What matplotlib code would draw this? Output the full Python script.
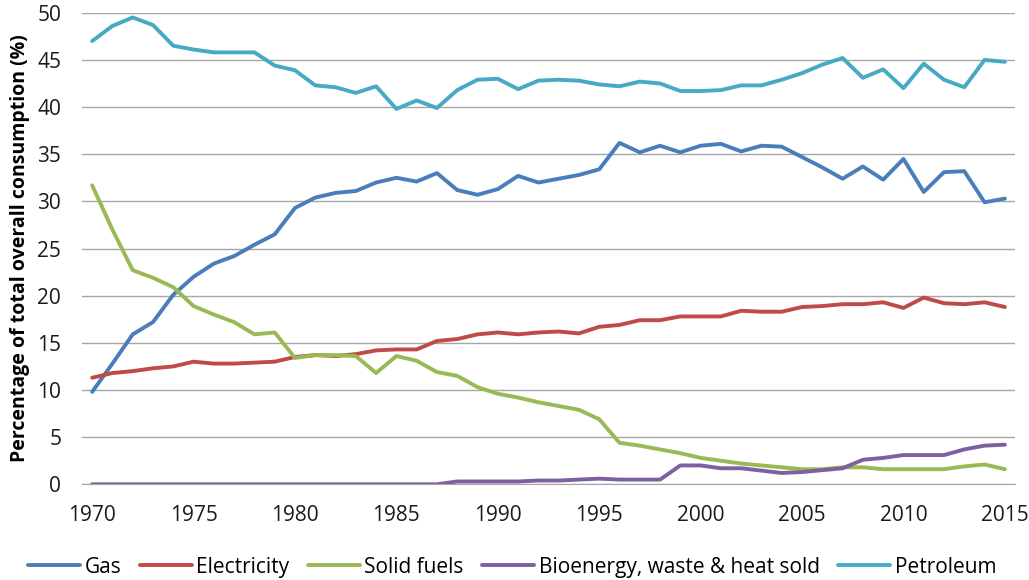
import numpy as np
import matplotlib
matplotlib.use('Agg')
import matplotlib.pyplot as plt

years = list(range(1970, 2016))

gas = [9.8, 12.8, 15.9, 17.2, 20.1, 22.0, 23.4, 24.2, 25.4, 26.5,
       29.3, 30.4, 30.9, 31.1, 32.0, 32.5, 32.1, 33.0, 31.2, 30.7,
       31.3, 32.7, 32.0, 32.4, 32.8, 33.4, 36.2, 35.2, 35.9, 35.2,
       35.9, 36.1, 35.3, 35.9, 35.8, 34.7, 33.6, 32.4, 33.7, 32.3,
       34.5, 31.0, 33.1, 33.2, 29.9, 30.3]

electricity = [11.3, 11.8, 12.0, 12.3, 12.5, 13.0, 12.8, 12.8, 12.9, 13.0,
               13.5, 13.7, 13.6, 13.8, 14.2, 14.3, 14.3, 15.2, 15.4, 15.9,
               16.1, 15.9, 16.1, 16.2, 16.0, 16.7, 16.9, 17.4, 17.4, 17.8,
               17.8, 17.8, 18.4, 18.3, 18.3, 18.8, 18.9, 19.1, 19.1, 19.3,
               18.7, 19.8, 19.2, 19.1, 19.3, 18.8]

solid_fuels = [31.7, 27.0, 22.7, 21.9, 20.9, 18.9, 18.0, 17.2, 15.9, 16.1,
               13.4, 13.7, 13.7, 13.6, 11.8, 13.6, 13.1, 11.9, 11.5, 10.3,
               9.6, 9.2, 8.7, 8.3, 7.9, 6.9, 4.4, 4.1, 3.7, 3.3,
               2.8, 2.5, 2.2, 2.0, 1.8, 1.6, 1.6, 1.8, 1.8, 1.6,
               1.6, 1.6, 1.6, 1.9, 2.1, 1.6]

bioenergy = [0.0, 0.0, 0.0, 0.0, 0.0, 0.0, 0.0, 0.0, 0.0, 0.0,
             0.0, 0.0, 0.0, 0.0, 0.0, 0.0, 0.0, 0.0, 0.3, 0.3,
             0.3, 0.3, 0.4, 0.4, 0.5, 0.6, 0.5, 0.5, 0.5, 2.0,
             2.0, 1.7, 1.7, 1.45, 1.2, 1.3, 1.5, 1.7, 2.6, 2.8,
             3.1, 3.1, 3.1, 3.7, 4.1, 4.2]

petroleum = [47.0, 48.6, 49.5, 48.7, 46.5, 46.1, 45.8, 45.8, 45.8, 44.4,
             43.9, 42.3, 42.1, 41.5, 42.2, 39.8, 40.7, 39.9, 41.8, 42.9,
             43.0, 41.9, 42.8, 42.9, 42.8, 42.4, 42.2, 42.7, 42.5, 41.7,
             41.7, 41.8, 42.3, 42.3, 42.9, 43.6, 44.5, 45.2, 43.1, 44.0,
             42.0, 44.6, 42.9, 42.1, 45.0, 44.8]

series = [
    ('Gas', gas, '#4A7EBB'),
    ('Electricity', electricity, '#BE4B48'),
    ('Solid fuels', solid_fuels, '#98B954'),
    ('Bioenergy, waste & heat sold', bioenergy, '#7D60A0'),
    ('Petroleum', petroleum, '#46AAC5'),
]

plt.rcParams['font.family'] = ['Open Sans', 'DejaVu Sans']

fig = plt.figure(figsize=(10.29, 5.80), dpi=100)
ax = fig.add_axes([0.0797, 0.165, 0.9067, 0.813])

for name, vals, col in series:
    ax.plot(years, vals, color=col, linewidth=2.8, label=name,
            solid_capstyle='round', solid_joinstyle='round')

ax.set_xlim(1969.5, 2015.5)
ax.set_ylim(0, 50)
ax.set_yticks(np.arange(0, 51, 5))
ax.set_xticks(np.arange(1970, 2016, 5))
ax.grid(axis='y', color='#A6A6A6', linewidth=1.0)
ax.set_axisbelow(True)
for s in ['top', 'right', 'left']:
    ax.spines[s].set_visible(False)
ax.spines['bottom'].set_color('#A6A6A6')
ax.tick_params(axis='both', length=0, labelsize=15, colors='#1a1a1a')
ax.tick_params(axis='y', pad=15)
ax.tick_params(axis='x', pad=15)

ax.set_ylabel('Percentage of total overall consumption (%)',
              fontsize=14, fontweight='bold', labelpad=5)

ax.legend(loc='center', bbox_to_anchor=(0.461, -0.176), ncol=5,
          frameon=False, fontsize=15, handlelength=2.5, handletextpad=0.2,
          columnspacing=0.9)

plt.savefig('out.png', dpi=100)
plt.close(fig)
